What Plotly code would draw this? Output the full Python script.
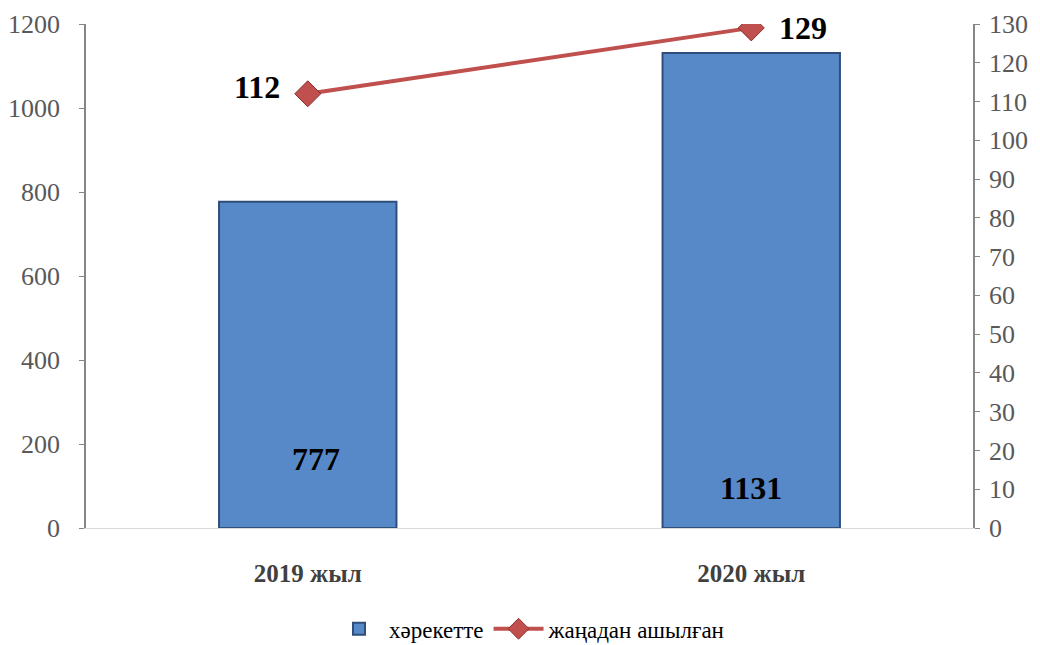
import plotly.graph_objects as go

categories = ["2019 жыл", "2020 жыл"]
active = [777, 1131]
new_opened = [112, 129]
left_ticks = [0, 200, 400, 600, 800, 1000, 1200]
right_ticks = list(range(0, 131, 10))
series_names = ["хәрекетте", "жаңадан ашылған"]

FONT = "Liberation Serif, DejaVu Serif, Times New Roman, serif"

fig = go.Figure()
fig.add_trace(go.Bar(
    x=categories, y=active, name=series_names[0],
    marker=dict(color="#5789c9", line=dict(color="#2f4f7a", width=2)),
    width=0.4, yaxis="y",
))
fig.add_trace(go.Scatter(
    x=categories, y=new_opened, name=series_names[1], yaxis="y2",
    mode="lines+markers",
    line=dict(color="#c0504d", width=4),
    marker=dict(symbol="diamond", size=20, color="#c0504d",
                line=dict(color="#8c2f2c", width=1)),
))

# bar value labels
bar_shifts = [(8, 49), (0, 20)]
for c, v, (dx, dy) in zip(categories, active, bar_shifts):
    fig.add_annotation(x=c, y=0, xref="x", yref="y", text=f"<b>{v}</b>",
                       showarrow=False, yanchor="bottom", xshift=dx, yshift=dy,
                       font=dict(family=FONT, size=32, color="black"))
# line value labels
line_pos = [("right", -26, 7), ("left", 26, 0)]
for c, v, (anc, dx, dy) in zip(categories, new_opened, line_pos):
    fig.add_annotation(x=c, y=v, xref="x", yref="y2", text=f"<b>{v}</b>",
                       showarrow=False, xanchor=anc, xshift=dx, yshift=dy,
                       font=dict(family=FONT, size=32, color="black"))

fig.update_layout(
    width=1040, height=645,
    margin=dict(l=86, r=67, t=24, b=117, autoexpand=False),
    paper_bgcolor="white", plot_bgcolor="white",
    showlegend=True,
    legend=dict(orientation="h", x=0.5, xanchor="center", y=-0.2, yanchor="middle",
                font=dict(family=FONT, size=23, color="black"),
                itemwidth=50, tracegroupgap=0),
    font=dict(family=FONT),
    xaxis=dict(
        automargin=False,
        showline=True, linecolor="#d9d9d9", linewidth=1,
        ticks="outside", ticklen=23, tickcolor="rgba(0,0,0,0)",
        tickfont=dict(family=FONT, size=25, color="#404040", weight="bold"),
        showgrid=False, zeroline=False,
    ),
    yaxis=dict(
        automargin=False,
        range=[0, 1200], tickvals=left_ticks,
        showline=True, linecolor="#868686", linewidth=1.5,
        ticks="outside", ticklen=5, tickcolor="#868686",
        ticklabelstandoff=14,
        tickfont=dict(family=FONT, size=26, color="#595959"),
        showgrid=False, zeroline=False,
    ),
    yaxis2=dict(
        automargin=False,
        range=[0, 130], tickvals=right_ticks, overlaying="y", side="right",
        showline=True, linecolor="#868686", linewidth=1.5,
        ticks="outside", ticklen=5, tickcolor="#868686",
        ticklabelstandoff=4,
        tickfont=dict(family=FONT, size=26, color="#595959"),
        showgrid=False, zeroline=False,
    ),
)

fig.write_html("out.html", config={"displayModeBar": False},
               post_script="document.body.style.margin='0';document.body.style.overflow='hidden';")
